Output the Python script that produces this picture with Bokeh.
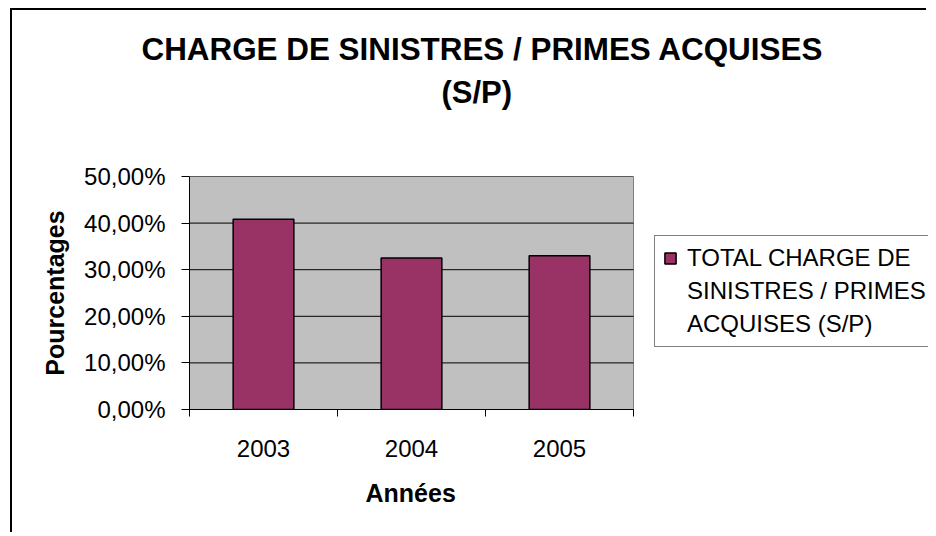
from bokeh.plotting import figure
from bokeh.models import (Range1d, FixedTicker, Legend, LegendItem, Title,
                          InlineStyleSheet)
from bokeh.embed import file_html
from bokeh.resources import INLINE

# ---- data ----
years = ["2003", "2004", "2005"]
ratios = [0.408, 0.325, 0.330]
y_max = 0.5
y_ticks = [0.0, 0.1, 0.2, 0.3, 0.4, 0.5]
y_tick_labels = ["0,00%", "10,00%", "20,00%", "30,00%", "40,00%", "50,00%"]
title_lines = ["CHARGE DE SINISTRES / PRIMES ACQUISES", "(S/P)"]
series_label_lines = ["TOTAL CHARGE DE", "SINISTRES / PRIMES", "ACQUISES (S/P)"]
x_title = "Années"
y_title = "Pourcentages"

FONT = "Liberation Sans"
BAR = "#993366"
PLOT_BG = "#C0C0C0"

n = len(years)
x_centers = [i + 0.5 for i in range(n)]
x_bounds = [float(i) for i in range(n + 1)]

# canvas origin after the css offset (outer chart border drawn with css)
OX, OY = 12, 10
W, H = 916, 524
BL, BT = 189 - OX, 176 - OY          # frame left / top inside the canvas
FW, FH = 444, 233                    # size of the grey plot area
# the frame runs to the right edge of the canvas so the legend can sit in it
x_end = n * (W - BL) / FW

p = figure(width=W, height=H, x_range=Range1d(0, x_end), y_range=Range1d(0, y_max),
           output_backend="svg", toolbar_location=None,
           min_border_left=BL, min_border_right=0,
           min_border_top=BT, min_border_bottom=H - BT - FH)
p.stylesheets = [InlineStyleSheet(css=":host { border-left: 2px solid #000; border-top: 2px solid #000; margin-left: 10px; margin-top: 8px; }")]

p.background_fill_color = "white"
p.border_fill_color = "white"
p.outline_line_color = None
p.xgrid.visible = False
p.ygrid.visible = False

# grey plot area with grey outline
p.quad(left=[0], right=[n], bottom=[0], top=[y_max],
       fill_color=PLOT_BG, line_color="#808080", line_width=1)
# horizontal grid lines limited to the plot area
p.segment(x0=[0] * len(y_ticks), x1=[n] * len(y_ticks), y0=y_ticks, y1=y_ticks,
          line_color="black", line_width=1)

# y axis
ya = p.yaxis[0]
ya.ticker = FixedTicker(ticks=y_ticks)
ya.major_label_overrides = dict(zip(y_ticks, y_tick_labels))
ya.major_tick_in = 0
ya.major_tick_out = 8
ya.minor_tick_in = 0
ya.minor_tick_out = 0
ya.axis_line_color = "black"
ya.major_tick_line_color = "black"
ya.major_label_text_font = FONT
ya.major_label_text_font_size = "24px"
ya.major_label_text_color = "black"
ya.major_label_standoff = 16
ya.axis_label = y_title
ya.axis_label_text_font = FONT
ya.axis_label_text_font_size = "25px"
ya.axis_label_text_font_style = "bold"
ya.axis_label_text_color = "black"
ya.axis_label_standoff = 12

# x axis
xa = p.xaxis[0]
xa.bounds = (0, n)
xa.ticker = FixedTicker(ticks=x_centers, minor_ticks=x_bounds)
xa.major_label_overrides = dict(zip(x_centers, years))
xa.major_tick_in = 0
xa.major_tick_out = 0
xa.minor_tick_in = 0
xa.minor_tick_out = 7
xa.minor_tick_line_color = "black"
xa.axis_line_color = "black"
xa.major_label_text_font = FONT
xa.major_label_text_font_size = "24px"
xa.major_label_text_color = "black"
xa.major_label_standoff = 23

# x axis title, centred under the grey plot area
p.add_layout(Title(text=x_title, align="left", offset=176, standoff=34,
                   text_font=FONT, text_font_size="25px", text_font_style="bold",
                   text_color="black"), "below")

r = p.vbar(x=x_centers, top=ratios, width=0.41, fill_color=BAR,
           line_color="black", line_width=1.5)
# empty renderer used for the continuation lines of the legend label
blank = p.vbar(x=[], top=[], width=0.41, fill_alpha=0, line_alpha=0)

items = [LegendItem(label=series_label_lines[0], renderers=[r])]
items += [LegendItem(label=t, renderers=[blank]) for t in series_label_lines[1:]]
legend = Legend(items=items, location=(465, 62), orientation="vertical",
                border_line_color="black", border_line_width=1.5,
                background_fill_color="white", background_fill_alpha=1,
                padding=8, margin=0, spacing=5,
                glyph_width=14, glyph_height=14, label_standoff=10,
                label_text_font=FONT, label_text_font_size="24px",
                label_text_color="black")
p.add_layout(legend, "center")

# titles stack outward from the plot: spacer, second line, first line
p.add_layout(Title(text=" ", text_font_size="1px", standoff=64), "above")
p.add_layout(Title(text=title_lines[1], align="left", offset=252, standoff=0,
                   text_font=FONT, text_font_size="31px", text_font_style="bold",
                   text_color="black"), "above")
p.add_layout(Title(text=title_lines[0], align="left", offset=-48, standoff=12,
                   text_font=FONT, text_font_size="31.4px", text_font_style="bold",
                   text_color="black"), "above")

open("out.html", "w").write(file_html(p, INLINE))
